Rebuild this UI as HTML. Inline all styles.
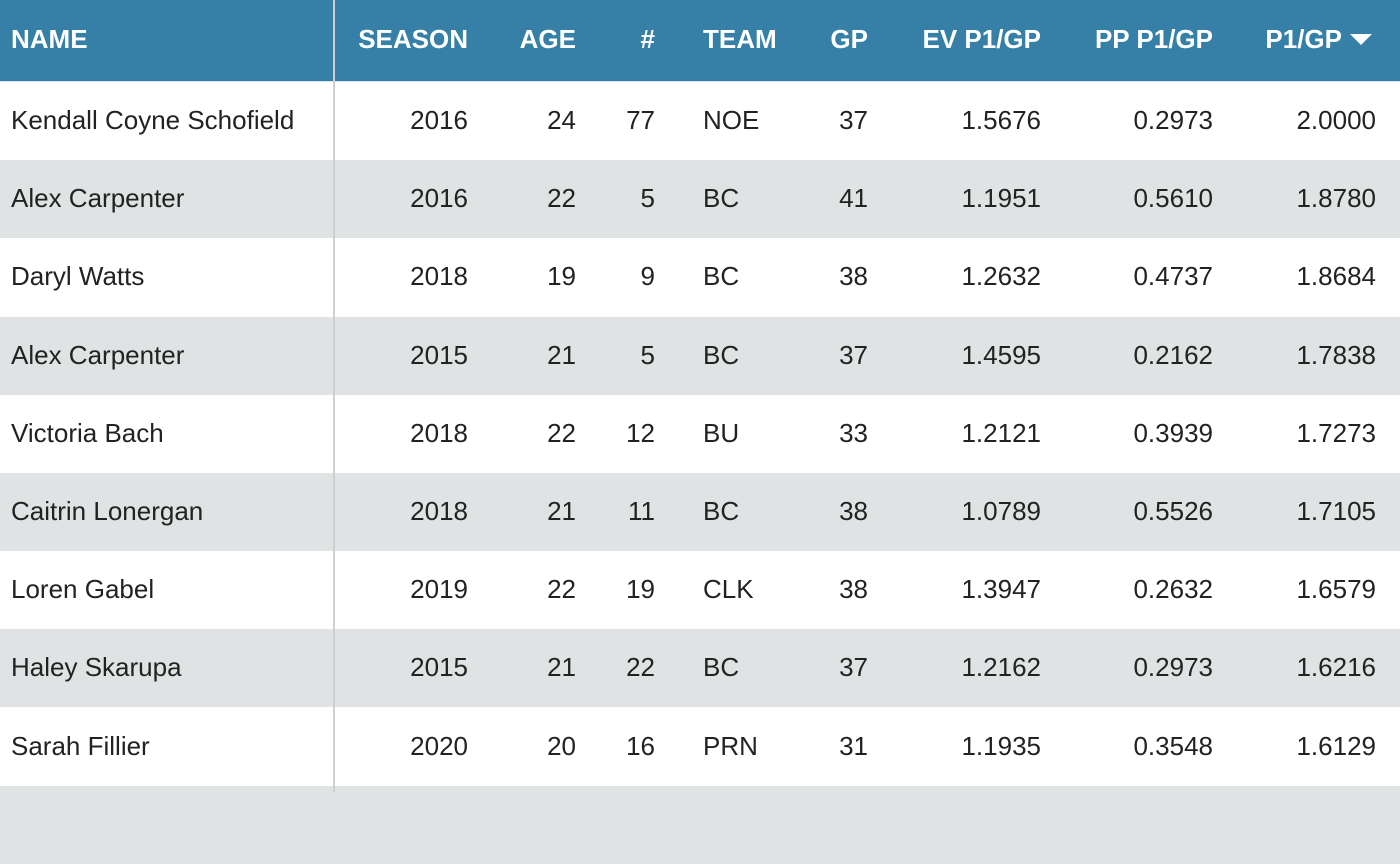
<!DOCTYPE html>
<html><head><meta charset="utf-8"><style>
body{margin:0;width:1400px;height:792px;overflow:hidden;background:#fff;font-family:"Liberation Sans",Arial,sans-serif;position:relative}
.hdr{position:absolute;left:0;top:0;width:1400px;height:81px;background:#3680a8;border-bottom:1px solid #d7e6ee}
.c{position:absolute;font-size:26px;white-space:nowrap}
.h{color:#fff;font-weight:bold;top:24px;font-size:26px}
.row{position:absolute;left:0;width:1400px;height:78px}
.g{background:#e0e3e4}
.sep{position:absolute;left:333px;top:0;width:2px;height:792px;background:#cfcfcf}
.r{text-align:right}
.d{color:#222;top:23px}
</style></head><body>
<div class="hdr">
<span class="c h" style="left:11px">NAME</span>
<span class="c h r" style="right:932px">SEASON</span>
<span class="c h r" style="right:824px">AGE</span>
<span class="c h r" style="right:745px">#</span>
<span class="c h" style="left:703px">TEAM</span>
<span class="c h r" style="right:532px">GP</span>
<span class="c h r" style="right:359px">EV P1/GP</span>
<span class="c h r" style="right:187px">PP P1/GP</span>
<span class="c h r" style="right:58px">P1/GP</span>
<svg style="position:absolute;left:1350px;top:34px" width="22" height="12"><polygon points="0,0 22,0 11,11" fill="#fff"/></svg>
</div>
<div id="rows"></div>
<div class="sep"></div>
<script>
const rows=[
["Kendall Coyne Schofield","2016","24","77","NOE","37","1.5676","0.2973","2.0000"],
["Alex Carpenter","2016","22","5","BC","41","1.1951","0.5610","1.8780"],
["Daryl Watts","2018","19","9","BC","38","1.2632","0.4737","1.8684"],
["Alex Carpenter","2015","21","5","BC","37","1.4595","0.2162","1.7838"],
["Victoria Bach","2018","22","12","BU","33","1.2121","0.3939","1.7273"],
["Caitrin Lonergan","2018","21","11","BC","38","1.0789","0.5526","1.7105"],
["Loren Gabel","2019","22","19","CLK","38","1.3947","0.2632","1.6579"],
["Haley Skarupa","2015","21","22","BC","37","1.2162","0.2973","1.6216"],
["Sarah Fillier","2020","20","16","PRN","31","1.1935","0.3548","1.6129"],
["","","","","","","","",""]];
const cols=[["l",11],["r",932],["r",824],["r",745],["l",703],["r",532],["r",359],["r",187],["r",24]];
const names=["name","season","age","number","team","gp","ev-p1-gp","pp-p1-gp","p1-gp"];
const host=document.getElementById('rows');
rows.forEach((r,i)=>{
 const d=document.createElement('div');
 d.className='row'+(i%2?' g':'');
 d.style.top=(82+i*78.2)+'px';
 
 
 r.forEach((v,j)=>{
  const s=document.createElement('span');
  s.className='c d';
  if(cols[j][0]=='l')s.style.left=cols[j][1]+'px';else s.style.right=cols[j][1]+'px';
  s.textContent=v;
  
  
  d.appendChild(s);
 });
 host.appendChild(d);
});
</script>
</body></html>
